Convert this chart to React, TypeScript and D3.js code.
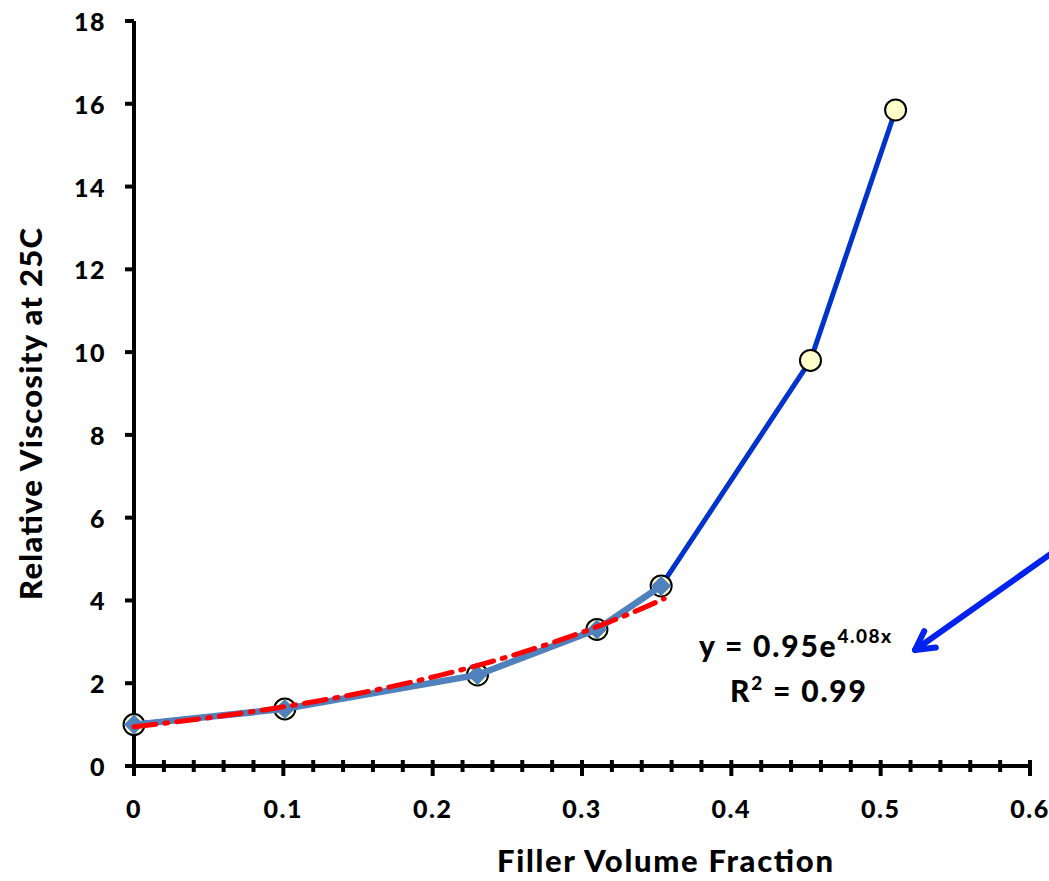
import React from "react";
import * as d3 from "d3";

const fillerFraction = [0, 0.101, 0.23, 0.31, 0.353, 0.453, 0.51];
const viscosity = [1.0, 1.38, 2.2, 3.3, 4.35, 9.8, 15.85];
const fitFraction = [0, 0.101, 0.23, 0.31, 0.353];
const fitViscosity = [1.0, 1.38, 2.2, 3.3, 4.35];
const trendCoefA = 0.95;
const trendCoefB = 4.08;
const trendRange = [0, 0.355];
const xTicks = [0, 0.1, 0.2, 0.3, 0.4, 0.5, 0.6];
const yTicks = [0, 2, 4, 6, 8, 10, 12, 14, 16, 18];

const W = 1049;
const H = 881;
const FONT = "Lato, 'Open Sans', sans-serif";

export default function App() {
  const x = d3.scaleLinear().domain([0, 0.6]).range([134, 1030]);
  const y = d3.scaleLinear().domain([0, 18]).range([766, 21]);

  const allPts = fillerFraction.map((f, i) => [f, viscosity[i]] as [number, number]);
  const fitPts = fitFraction.map((f, i) => [f, fitViscosity[i]] as [number, number]);
  const line = d3.line<[number, number]>().x((d) => x(d[0])).y((d) => y(d[1]));

  const trendX = d3.range(0, 41).map((i) => trendRange[0] + ((trendRange[1] - trendRange[0]) * i) / 40);
  const trendPts = trendX.map((v) => [v, trendCoefA * Math.exp(trendCoefB * v)] as [number, number]);

  const minorX = d3.range(0, 31).map((i) => i * 0.02);

  const diamond = (cx: number, cy: number, r: number) =>
    `M${cx},${cy - r}L${cx + r},${cy}L${cx},${cy + r}L${cx - r},${cy}Z`;

  // arrow
  const ax1 = 1052, ay1 = 553, ax2 = 915, ay2 = 650;
  const ang = Math.atan2(ay1 - ay2, ax1 - ax2);
  const hl = 21, ha = 0.5;
  const h1 = [ax2 + hl * Math.cos(ang + ha), ay2 + hl * Math.sin(ang + ha)];
  const h2 = [ax2 + hl * Math.cos(ang - ha), ay2 + hl * Math.sin(ang - ha)];

  return (
    <svg
      width={W}
      height={H}
      style={{ position: "absolute", left: 0, top: 0, background: "#fff" }}
      fontFamily={FONT}
    >
      {/* axes */}
      <line x1={x(0)} x2={x(0.6)} y1={y(0)} y2={y(0)} stroke="#000" strokeWidth={4} />
      <line x1={x(0)} x2={x(0)} y1={y(18)} y2={y(0) + 9} stroke="#000" strokeWidth={4} />
      {minorX.map((v, i) => (
        <line
          key={"mx" + i}
          x1={x(v)}
          x2={x(v)}
          y1={y(0) - 6}
          y2={y(0) + (i % 5 === 0 ? 10 : 6)}
          stroke="#000"
          strokeWidth={4}
        />
      ))}
      {yTicks.map((v) => (
        <line key={"yt" + v} x1={x(0) - 9} x2={x(0)} y1={y(v)} y2={y(v)} stroke="#000" strokeWidth={4} />
      ))}
      {yTicks.map((v) => (
        <text
          key={"yl" + v}
          x={106}
          y={y(v)}
          textAnchor="end"
          dominantBaseline="central"
          fontSize={25}
          fontWeight="900"
          letterSpacing={1.5}
        >
          {v}
        </text>
      ))}
      {xTicks.map((v) => (
        <text
          key={"xl" + v}
          x={x(v)}
          y={808}
          textAnchor="middle"
          dominantBaseline="central"
          fontSize={25}
          fontWeight="900"
          letterSpacing={1.5}
        >
          {v}
        </text>
      ))}
      <text
        x={665}
        y={872}
        textAnchor="middle"
        fontSize={31}
        fontWeight="900"
        textLength={336}
        lengthAdjust="spacing"
      >
        Filler Volume Fraction
      </text>
      <text
        transform={`translate(42,${414}) rotate(-90)`}
        textAnchor="middle"
        fontSize={31}
        fontWeight="900"
        textLength={372}
        lengthAdjust="spacing"
      >
        Relative Viscosity at 25C
      </text>

      {/* main series */}
      <path d={line(allPts) || ""} fill="none" stroke="#0033CC" strokeWidth={5} />
      {allPts.map((p, i) => (
        <circle key={"c" + i} cx={x(p[0])} cy={y(p[1])} r={10.5} fill="#FFFFCC" stroke="#000" strokeWidth={2} />
      ))}
      {/* fitted subset */}
      <path d={line(fitPts) || ""} fill="none" stroke="#4F81BD" strokeWidth={6.5} />
      {fitPts.map((p, i) => (
        <path key={"d" + i} d={diamond(x(p[0]), y(p[1]), 10)} fill="#4F81BD" />
      ))}
      {/* trendline */}
      <path
        d={line(trendPts) || ""}
        fill="none"
        stroke="#FF0000"
        strokeWidth={5}
        strokeDasharray="22,9,3,9"
        strokeLinecap="round"
      />

      {/* equation */}
      <text x={699} y={657} fontSize={30} fontWeight="900" letterSpacing={1.8}>
        y = 0.95e
        <tspan fontSize={19} dy={-14} letterSpacing={1.5}>
          4.08x
        </tspan>
      </text>
      <text x={730} y={702} fontSize={30} fontWeight="900" letterSpacing={1.8}>
        R
        <tspan fontSize={19} dy={-12}>
          2
        </tspan>
        <tspan dy={12}> = 0.99</tspan>
      </text>

      {/* arrow */}
      <line x1={ax1} y1={ay1} x2={ax2} y2={ay2} stroke="#0022EE" strokeWidth={6} strokeLinecap="round" />
      <path
        d={`M${h1[0]},${h1[1]}L${ax2},${ay2}L${h2[0]},${h2[1]}`}
        fill="none"
        stroke="#0022EE"
        strokeWidth={6}
        strokeLinecap="round"
        strokeLinejoin="round"
      />
    </svg>
  );
}
